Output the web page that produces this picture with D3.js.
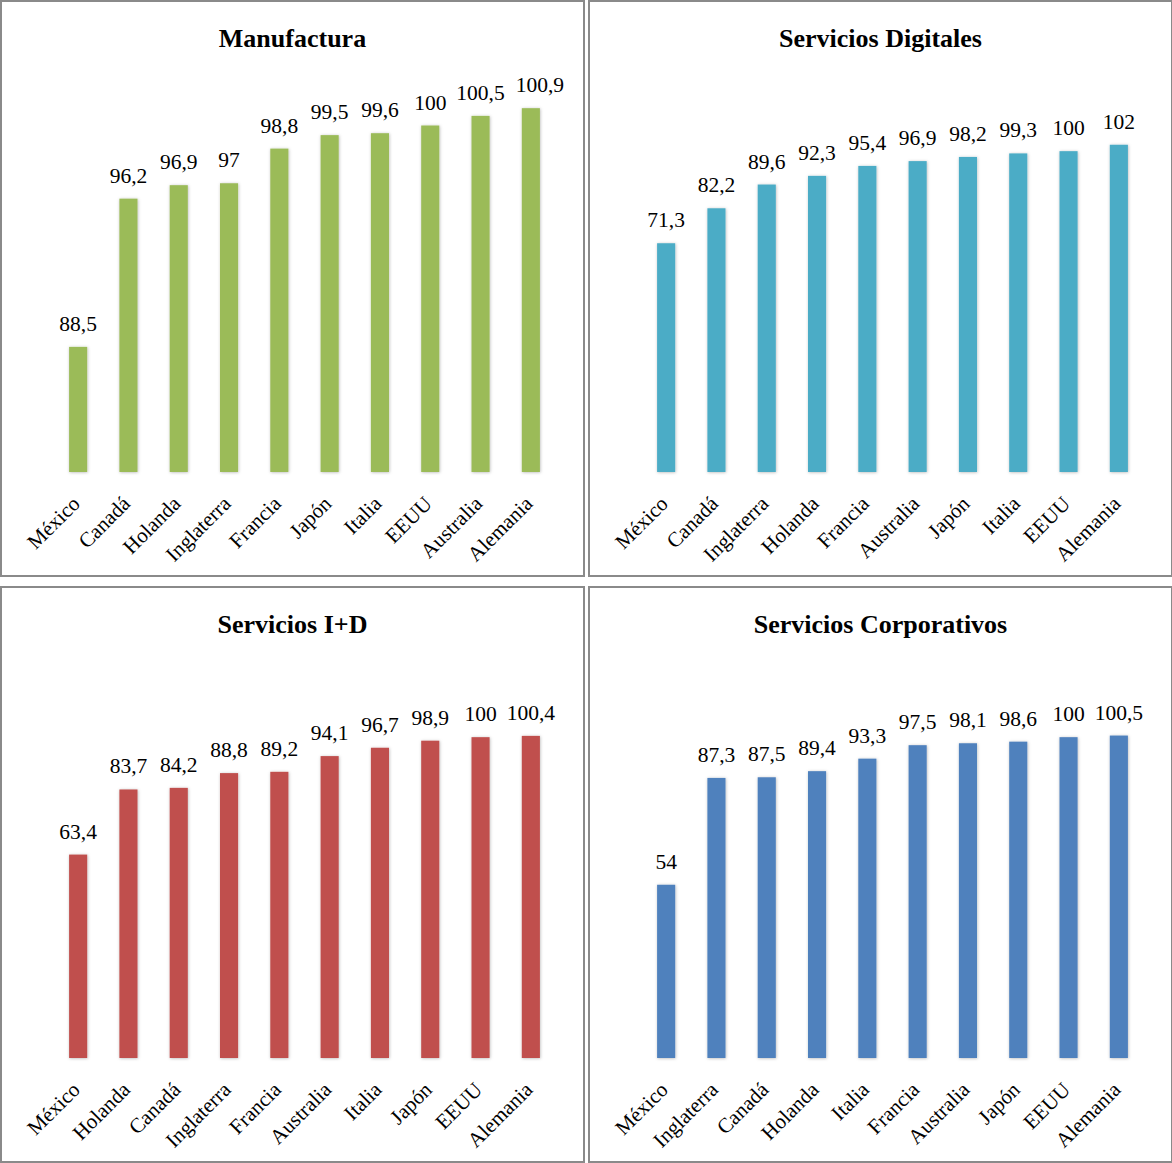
<!DOCTYPE html>
<html>
<head>
<meta charset="utf-8">
<script src="https://cdn.jsdelivr.net/npm/d3@7"></script>
<style>
  html, body { margin: 0; padding: 0; background: #fff; }
  svg { display: block; }
  text { font-family: "Liberation Serif", "Times New Roman", serif; fill: #000; }
</style>
</head>
<body>
<svg id="chart" width="1172" height="1163"></svg>
<script>
// Índices por sector (EEUU = 100)
const manufCategories = ["México", "Canadá", "Holanda", "Inglaterra", "Francia", "Japón", "Italia", "EEUU", "Australia", "Alemania"];
const manufValues     = [88.5, 96.2, 96.9, 97, 98.8, 99.5, 99.6, 100, 100.5, 100.9];

const digitalCategories = ["México", "Canadá", "Inglaterra", "Holanda", "Francia", "Australia", "Japón", "Italia", "EEUU", "Alemania"];
const digitalValues     = [71.3, 82.2, 89.6, 92.3, 95.4, 96.9, 98.2, 99.3, 100, 102];

const idCategories = ["México", "Holanda", "Canadá", "Inglaterra", "Francia", "Australia", "Italia", "Japón", "EEUU", "Alemania"];
const idValues     = [63.4, 83.7, 84.2, 88.8, 89.2, 94.1, 96.7, 98.9, 100, 100.4];

const corpCategories = ["México", "Inglaterra", "Canadá", "Holanda", "Italia", "Francia", "Australia", "Japón", "EEUU", "Alemania"];
const corpValues     = [54, 87.3, 87.5, 89.4, 93.3, 97.5, 98.1, 98.6, 100, 100.5];

const titles = ["Manufactura", "Servicios Digitales", "Servicios I+D", "Servicios Corporativos"];
const yDomains = [[82, 102], [0, 120], [0, 120], [0, 120]];

const panels = [
  { title: titles[0], cats: manufCategories,   vals: manufValues,   domain: yDomains[0], color: "#9BBB59", x: 1,   y: 1,   lastDx: 9 },
  { title: titles[1], cats: digitalCategories, vals: digitalValues, domain: yDomains[1], color: "#4BACC6", x: 589, y: 1,   lastDx: 0 },
  { title: titles[2], cats: idCategories,      vals: idValues,      domain: yDomains[2], color: "#C0504D", x: 1,   y: 587, lastDx: 0 },
  { title: titles[3], cats: corpCategories,    vals: corpValues,    domain: yDomains[3], color: "#4F81BD", x: 589, y: 587, lastDx: 0 }
];

const PW = 583, PH = 575;
const plot = { left: 52, right: 555, top: 86, bottom: 471 };

const fmt = v => String(v).replace(".", ",");

const svg = d3.select("#chart");

const defs = svg.append("defs");
const sh = defs.append("filter").attr("id", "barShadow")
  .attr("x", "-40%").attr("y", "-10%").attr("width", "180%").attr("height", "120%");
sh.append("feDropShadow").attr("dx", 0.5).attr("dy", 0.5).attr("stdDeviation", 1.6)
  .attr("flood-color", "#000").attr("flood-opacity", 0.28);

const axSh = defs.append("filter").attr("id", "axisShadow")
  .attr("x", "-5%").attr("y", "-200%").attr("width", "110%").attr("height", "500%");
axSh.append("feDropShadow").attr("dx", 0).attr("dy", 1.5).attr("stdDeviation", 1)
  .attr("flood-color", "#000").attr("flood-opacity", 0.15);

panels.forEach(p => {
  const g = svg.append("g").attr("transform", `translate(${p.x},${p.y})`);

  g.append("rect")
    .attr("x", 0).attr("y", 0).attr("width", PW).attr("height", PH)
    .attr("fill", "#fff").attr("stroke", "#8a8a8a").attr("stroke-width", 2);

  g.append("text")
    .attr("x", PW / 2).attr("y", 46)
    .attr("text-anchor", "middle")
    .attr("font-size", 26).attr("font-weight", "bold")
    .text(p.title);

  const x = d3.scaleBand().domain(p.cats).range([plot.left, plot.right]).paddingInner(0.64).paddingOuter(0.32);
  const y = d3.scaleLinear().domain(p.domain).range([plot.bottom, plot.top]);

  const data = p.cats.map((c, i) => ({ c, v: p.vals[i], last: i === p.cats.length - 1 }));

  g.append("g").selectAll("rect").data(data).join("rect")
    .attr("x", d => x(d.c))
    .attr("y", d => y(d.v))
    .attr("width", x.bandwidth())
    .attr("height", d => plot.bottom - y(d.v))
    .attr("fill", p.color)
    .attr("filter", "url(#barShadow)");

  const axis = d3.axisBottom(x).tickSize(0).tickPadding(0).tickFormat("");
  const ag = g.append("g").attr("transform", `translate(0,${plot.bottom})`).call(axis);
  ag.select(".domain").attr("stroke", "#8c8c8c").attr("stroke-width", 2).attr("filter", "url(#axisShadow)");

  g.append("g").selectAll("text.cat").data(data).join("text")
    .attr("class", "cat")
    .attr("transform", d => `translate(${x(d.c) + x.bandwidth() / 2 + 3},${plot.bottom + 33}) rotate(-45)`)
    .attr("text-anchor", "end")
    .attr("font-size", 21)
    .text(d => d.c);

  g.append("g").selectAll("text.val").data(data).join("text")
    .attr("class", "val")
    .attr("x", d => x(d.c) + x.bandwidth() / 2 + (d.last ? p.lastDx : 0))
    .attr("y", d => y(d.v) - 16)
    .attr("text-anchor", "middle")
    .attr("font-size", 21.5)
    .text(d => fmt(d.v));
});
</script>
</body>
</html>
